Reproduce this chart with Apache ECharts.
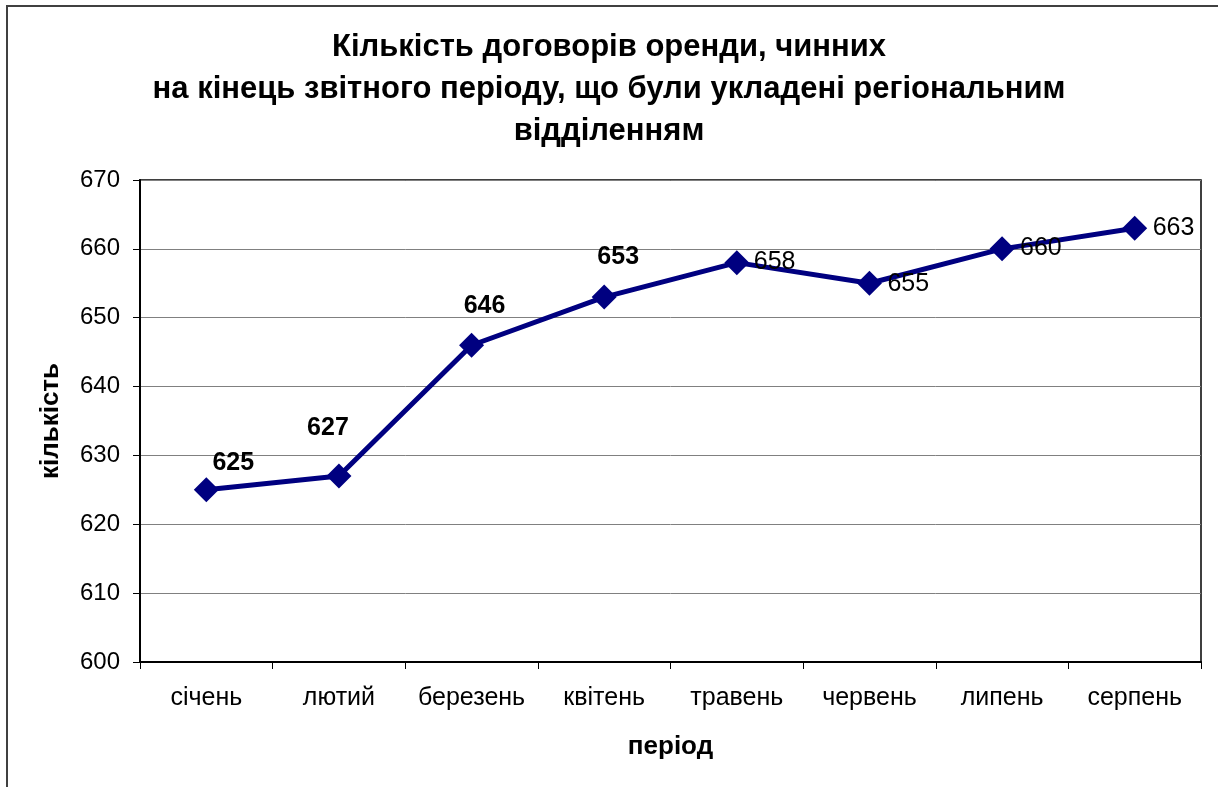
<!DOCTYPE html>
<html>
<head>
<meta charset="utf-8">
<script src="https://cdn.jsdelivr.net/npm/echarts@6/dist/echarts.min.js"></script>
<style>
html,body{margin:0;padding:0;background:#fff;}
#chart{width:1218px;height:787px;}
</style>
</head>
<body>
<div id="chart"></div>
<script>
var titleLines = ['Кількість договорів оренди, чинних', 'на кінець звітного періоду, що були укладені регіональним', 'відділенням'];
var categories = ['січень', 'лютий', 'березень', 'квітень', 'травень', 'червень', 'липень', 'серпень'];
var values = [625, 627, 646, 653, 658, 655, 660, 663];
var yTicks = [600, 610, 620, 630, 640, 650, 660, 670];
var yName = 'кількість';
var xName = 'період';

// label placement (styling, per point index)
var labelStyles = [
  {bold: true, offset: [27, -27], align: 'center'},
  {bold: true, offset: [-11, -48], align: 'center'},
  {bold: true, offset: [13, -39], align: 'center'},
  {bold: true, offset: [14, -40], align: 'center'},
  {bold: false, offset: [17, -1], align: 'left'},
  {bold: false, offset: [18, 1], align: 'left'},
  {bold: false, offset: [18, -1], align: 'left'},
  {bold: false, offset: [18, 0], align: 'left'}
];

var FONT = 'Liberation Sans, Arial, sans-serif';

var seriesData = values.map(function (v, i) {
  var s = labelStyles[i];
  return {
    value: v,
    label: {
      show: true,
      position: 'inside',
      offset: s.offset,
      align: s.align,
      verticalAlign: 'middle',
      fontWeight: s.bold ? 'bold' : 'normal',
      fontSize: 25,
      color: '#000',
      fontFamily: FONT
    }
  };
});

var chart = echarts.init(document.getElementById('chart'), null, {renderer: 'canvas'});
chart.setOption({
  backgroundColor: '#fff',
  animation: false,
  textStyle: {fontFamily: FONT},
  title: {
    text: titleLines.join('\n'),
    left: 'center',
    top: 21,
    textStyle: {fontSize: 31, fontWeight: 'bold', color: '#000', lineHeight: 42, fontFamily: FONT}
  },
  graphic: [{
    type: 'rect',
    shape: {x: 7, y: 6, width: 1230, height: 800},
    style: {fill: 'none', stroke: '#404040', lineWidth: 2},
    silent: true,
    z: 100
  }],
  grid: {
    left: 140, right: 17, top: 180, bottom: 125,
    show: true, borderColor: '#000', borderWidth: 1.5, backgroundColor: 'transparent'
  },
  xAxis: {
    type: 'category',
    data: categories,
    boundaryGap: true,
    name: xName,
    nameLocation: 'middle',
    nameGap: 72,
    nameTextStyle: {fontSize: 26, fontWeight: 'bold', color: '#000'},
    axisLine: {lineStyle: {color: '#000', width: 2}},
    axisTick: {show: true, inside: false, length: 7, lineStyle: {color: '#000', width: 1}},
    axisLabel: {fontSize: 25, color: '#000', margin: 24, interval: 0},
    splitLine: {show: false}
  },
  yAxis: {
    type: 'value',
    min: yTicks[0],
    max: yTicks[yTicks.length - 1],
    interval: yTicks[1] - yTicks[0],
    name: yName,
    nameLocation: 'middle',
    nameGap: 76,
    nameRotate: 90,
    nameTextStyle: {fontSize: 26, fontWeight: 'bold', color: '#000'},
    axisLine: {show: true, lineStyle: {color: '#000', width: 2}},
    axisTick: {show: true, inside: false, length: 7, lineStyle: {color: '#000', width: 1}},
    axisLabel: {fontSize: 24, color: '#000', margin: 20},
    splitLine: {show: true, lineStyle: {color: '#808080', width: 1}}
  },
  series: [{
    type: 'line',
    data: seriesData,
    symbol: 'diamond',
    symbolSize: 25,
    lineStyle: {color: '#000080', width: 5},
    itemStyle: {color: '#000080'},
    z: 3
  }]
});
</script>
</body>
</html>
